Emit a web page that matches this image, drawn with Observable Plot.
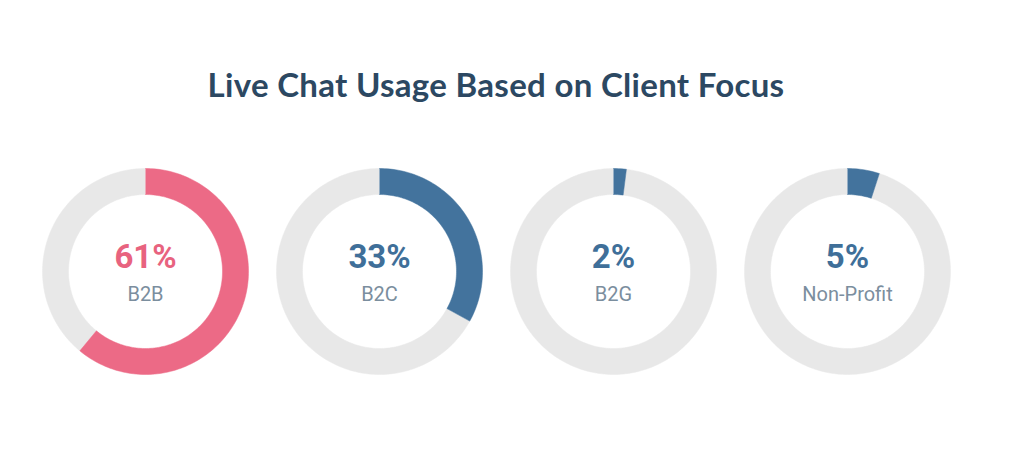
<!DOCTYPE html>
<html>
<head>
<meta charset="utf-8">
<script src="https://cdn.jsdelivr.net/npm/d3@7"></script>
<script src="https://cdn.jsdelivr.net/npm/@observablehq/plot@0.6"></script>
<style>
  html, body { margin: 0; padding: 0; background: #ffffff; }
  #wrap { width: 1024px; height: 453px; overflow: hidden; position: relative; }
  #title { position: absolute; top: 62px; left: 0; width: 992px; text-align: center;
    font-family: Lato, "Open Sans", sans-serif; font-weight: 700; font-size: 33px;
    color: #2c4862; letter-spacing: 0.3px; line-height: 44px; }
  #chart { position: absolute; top: 130px; left: 0; }
</style>
</head>
<body>
<div id="wrap">
  <div id="title">Live Chat Usage Based on Client Focus</div>
  <div id="chart"></div>
</div>
<script>
const categories = ["B2B", "B2C", "B2G", "Non-Profit"];
const values = [61, 33, 2, 5];
const accentColors = ["#ec6a86", "#43739d", "#43739d", "#43739d"];
const textColors = ["#e8637f", "#3f6f99", "#3f6f99", "#3f6f99"];
const trackColor = "#e8e8e8";

const W = 1024, H = 323;
const firstCx = 145, stepCx = 234, cy = 141;
const rOuter = 103, rInner = 77;

function arcPoints(id, cx, f0, f1, color) {
  const pts = [];
  const n = Math.max(2, Math.ceil((f1 - f0) * 240));
  for (let k = 0; k <= n; k++) {
    const a = 2 * Math.PI * (f0 + (f1 - f0) * k / n);
    pts.push({id, color, x: cx + rOuter * Math.sin(a), y: cy - rOuter * Math.cos(a)});
  }
  for (let k = n; k >= 0; k--) {
    const a = 2 * Math.PI * (f0 + (f1 - f0) * k / n);
    pts.push({id, color, x: cx + rInner * Math.sin(a), y: cy - rInner * Math.cos(a)});
  }
  return pts;
}

const arcs = [];
const labels = [];
categories.forEach((c, i) => {
  const cx = firstCx + i * stepCx;
  const f = values[i] / 100;
  arcs.push(...arcPoints(c + "-track", cx, f, 1, trackColor));
  arcs.push(...arcPoints(c + "-value", cx, 0, f, accentColors[i]));
  labels.push({cx, cat: c, pct: values[i] + "%", color: textColors[i]});
});

const plot = Plot.plot({
  width: W, height: H,
  margin: 0,
  x: {domain: [0, W], range: [0, W], axis: null},
  y: {domain: [0, H], range: [0, H], axis: null},
  color: {type: "identity"},
  marks: [
    Plot.line(arcs, {x: "x", y: "y", z: "id", fill: "color", stroke: "color", strokeWidth: 0.5, curve: "linear"}),
    Plot.text(labels, {x: "cx", y: () => cy - 14, text: "pct", fill: "color",
      fontSize: 33, fontWeight: 700, fontFamily: "Roboto, 'Open Sans', sans-serif", lineAnchor: "middle"}),
    Plot.text(labels, {x: "cx", y: () => cy + 23, text: "cat", fill: "#7b8e9e",
      fontSize: 20, fontFamily: "Roboto, 'Open Sans', sans-serif", lineAnchor: "middle"})
  ]
});
document.getElementById("chart").appendChild(plot);
</script>
</body>
</html>
